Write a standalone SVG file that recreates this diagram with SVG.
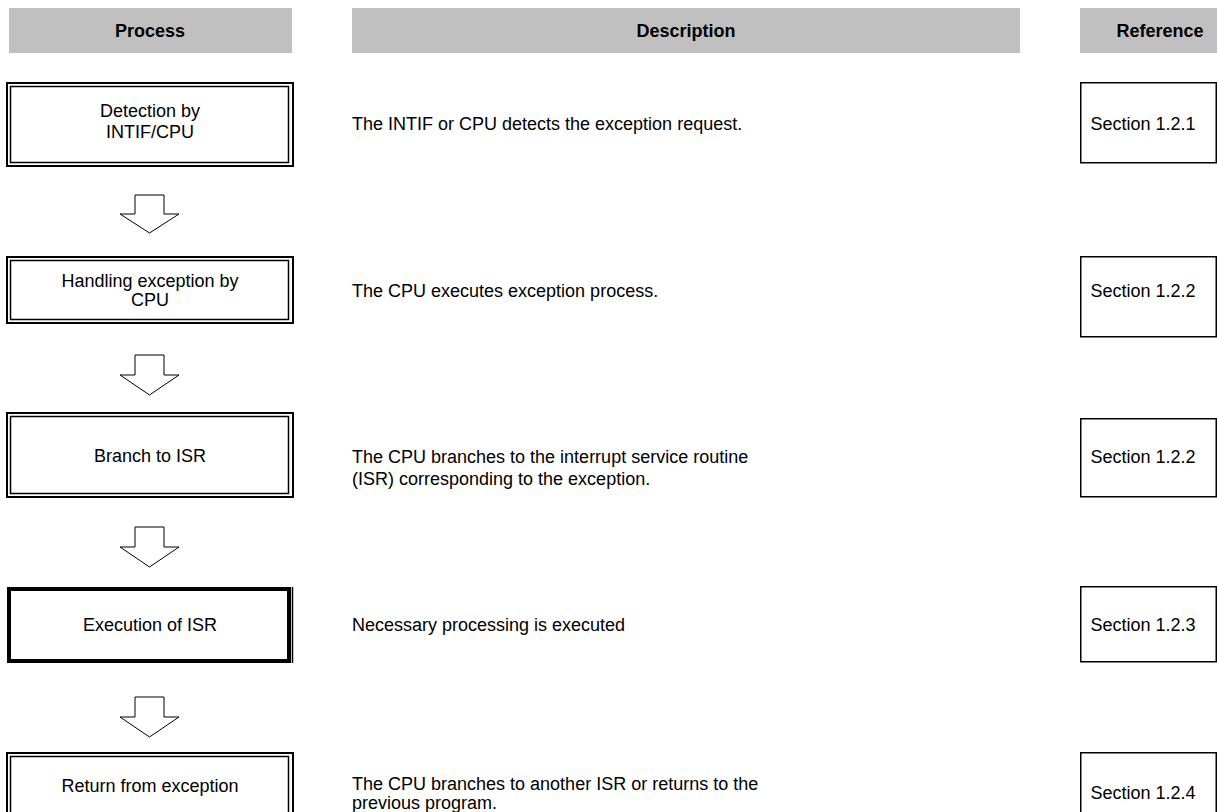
<svg xmlns="http://www.w3.org/2000/svg" width="1217" height="812" viewBox="0 0 1217 812">
  <style>
    .hdr { fill: #c0c0c0; }
    .hdrtxt { font-family: "Liberation Sans", Arial, sans-serif; font-weight: bold; font-size: 18px; fill: #000; text-anchor: middle; }
    .txt { font-family: "Liberation Sans", Arial, sans-serif; font-size: 18px; fill: #000; }
    .mid { text-anchor: middle; }
    .outer { fill: none; stroke: #000; stroke-width: 2; }
    .inner { fill: none; stroke: #000; stroke-width: 1.5; }
    .ref { fill: none; stroke: #000; stroke-width: 1.5; }
    .arrow { fill: #fff; stroke: #000; stroke-width: 1; }
  </style>
  <rect width="1217" height="812" fill="#fff"/>

  <!-- column headers -->
  <g id="headers">
    <rect class="hdr" x="9" y="8" width="283" height="45"/>
    <rect class="hdr" x="352" y="8" width="668" height="45"/>
    <rect class="hdr" x="1080" y="8" width="137" height="45"/>
    <text class="hdrtxt" x="150" y="37">Process</text>
    <text class="hdrtxt" x="686" y="37">Description</text>
    <text class="hdrtxt" x="1160" y="37">Reference</text>
  </g>

  <!-- process steps -->
  <g id="step1">
    <rect class="outer" x="7" y="83" width="286" height="83"/>
    <rect class="inner" x="10.5" y="86.5" width="278" height="76"/>
    <text class="txt mid" x="150" y="117">Detection by</text>
    <text class="txt mid" x="150" y="138">INTIF/CPU</text>
  </g>
  <g id="step2">
    <rect class="outer" x="7" y="257" width="286" height="66"/>
    <rect class="inner" x="10.5" y="260.5" width="278" height="59"/>
    <text class="txt mid" x="150" y="287">Handling exception by</text>
    <text class="txt mid" x="150" y="306">CPU</text>
  </g>
  <g id="step3">
    <rect class="outer" x="7" y="413" width="286" height="84"/>
    <rect class="inner" x="10.5" y="416.5" width="278" height="77"/>
    <text class="txt mid" x="150" y="462">Branch to ISR</text>
  </g>
  <g id="step4">
    <rect fill="none" stroke="#000" stroke-width="4" x="9" y="589" width="280" height="72"/>
    <line x1="292.5" y1="587" x2="292.5" y2="663" stroke="#000" stroke-width="1.5"/>
    <text class="txt mid" x="150" y="631">Execution of ISR</text>
  </g>
  <g id="step5">
    <rect class="outer" x="7" y="753" width="286" height="70"/>
    <rect class="inner" x="10.5" y="756.5" width="278" height="70"/>
    <text class="txt mid" x="150" y="792">Return from exception</text>
  </g>

  <!-- descriptions -->
  <g id="desc1">
    <text class="txt" x="352" y="130">The INTIF or CPU detects the exception request.</text>
  </g>
  <g id="desc2">
    <text class="txt" x="352" y="297">The CPU executes exception process.</text>
  </g>
  <g id="desc3">
    <text class="txt" x="352" y="463">The CPU branches to the interrupt service routine</text>
    <text class="txt" x="352" y="485">(ISR) corresponding to the exception.</text>
  </g>
  <g id="desc4">
    <text class="txt" x="352" y="631">Necessary processing is executed</text>
  </g>
  <g id="desc5">
    <text class="txt" x="352" y="790">The CPU branches to another ISR or returns to the</text>
    <text class="txt" x="352" y="809">previous program.</text>
  </g>

  <!-- references -->
  <g id="ref1">
    <rect class="ref" x="1080.75" y="82.75" width="135.5" height="80"/>
    <text class="txt mid" x="1143" y="130">Section 1.2.1</text>
  </g>
  <g id="ref2">
    <rect class="ref" x="1080.75" y="256.75" width="135.5" height="80"/>
    <text class="txt mid" x="1143" y="297">Section 1.2.2</text>
  </g>
  <g id="ref3">
    <rect class="ref" x="1080.75" y="418.75" width="135.5" height="78"/>
    <text class="txt mid" x="1143" y="463">Section 1.2.2</text>
  </g>
  <g id="ref4">
    <rect class="ref" x="1080.75" y="586.75" width="135.5" height="75"/>
    <text class="txt mid" x="1143" y="631">Section 1.2.3</text>
  </g>
  <g id="ref5">
    <rect class="ref" x="1080.75" y="752.75" width="135.5" height="70"/>
    <text class="txt mid" x="1143" y="799">Section 1.2.4</text>
  </g>

  <!-- flow arrows between steps -->
  <g id="connectors">
    <path class="arrow" d="M135,195 H164 V214 H179 L149.5,233 L120,214 H135 Z"/>
    <path class="arrow" d="M135,355 H164 V375 H179 L149.5,395 L120,375 H135 Z"/>
    <path class="arrow" d="M135,527 H164 V547 H179 L149.5,567 L120,547 H135 Z"/>
    <path class="arrow" d="M135,697 H164 V717 H179 L149.5,737 L120,717 H135 Z"/>
  </g>
</svg>
